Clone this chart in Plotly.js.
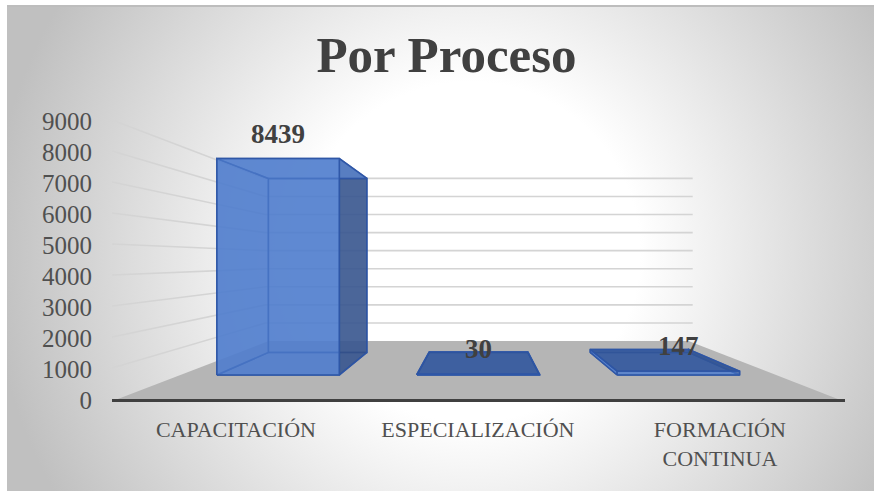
<!DOCTYPE html>
<html><head><meta charset="utf-8">
<script src="https://cdn.plot.ly/plotly-3.0.1.min.js"></script>
<style>
html,body{margin:0;padding:0;width:874px;height:491px;background:#fff;overflow:hidden}
#frame{position:absolute;left:7px;top:5px;width:867px;height:486px;box-sizing:border-box;border-top:2px solid #bdbdbd;
background:radial-gradient(circle at 463px 245px,#fff 170px,#c0c0c0 480px)}
#chart{position:absolute;left:0;top:0;width:874px;height:491px}
</style></head><body>
<div id="frame"></div><div id="chart"></div>
<script>
const categories = ['CAPACITACIÓN', 'ESPECIALIZACIÓN', 'FORMACIÓN<br>CONTINUA'];
const values = [8439, 30, 147];
const valueTicks = [0, 1000, 2000, 3000, 4000, 5000, 6000, 7000, 8000, 9000];
const chartTitle = 'Por Proceso';

// perspective of the 3D scene, in axis units
const vanishI = 1.008, vanishV = 4484;
const backDepth = 0.583, barFront = 0.827, barBack = 0.665, barHalf = 0.306;
const wallL = -0.512, wallR = 2.517, floorL = -0.488, floorR = 2.487;
const P = (i, v, s) => [vanishI + (i - vanishI) * s, vanishV + (v - vanishV) * s];

const face = (pts, fill, line) => ({
  type: 'scatter', mode: 'lines', fill: 'toself', fillcolor: fill,
  x: pts.map(p => p[0]).concat(pts[0][0]), y: pts.map(p => p[1]).concat(pts[0][1]),
  line: {color: line, width: 1.5}, hoverinfo: 'skip', cliponaxis: false
});

const traces = [];
traces.push(face([P(floorL,0,1), P(floorR,0,1), P(floorR,0,backDepth), P(floorL,0,backDepth)], '#b5b5b5', 'rgba(0,0,0,0)'));

const gx = [], gy = [];
valueTicks.filter(t => t > 0).forEach(t => {
  [P(wallL,t,1), P(wallL,t,backDepth), P(wallR,t,backDepth)].forEach(p => { gx.push(p[0]); gy.push(p[1]); });
  gx.push(null); gy.push(null);
});
traces.push({type:'scatter', mode:'lines', x:gx, y:gy, line:{color:'#d4d4d4', width:1.6}, hoverinfo:'skip', cliponaxis:false});

const edge = 'rgba(45,85,165,0.9)', lit = 'rgba(80,125,205,0.7)', dark = 'rgba(52,78,128,0.72)';
values.forEach((v, k) => {
  const a = k - barHalf, b = k + barHalf;
  const topFill = v > vanishV ? lit : 'rgba(50,85,150,0.8)';
  traces.push(face([P(a,0,barBack),P(b,0,barBack),P(b,v,barBack),P(a,v,barBack)], lit, edge));
  traces.push(face([P(a,0,barFront),P(b,0,barFront),P(b,0,barBack),P(a,0,barBack)], lit, edge));
  traces.push(face([P(a,0,barFront),P(a,v,barFront),P(a,v,barBack),P(a,0,barBack)], lit, edge));
  traces.push(face([P(b,0,barFront),P(b,v,barFront),P(b,v,barBack),P(b,0,barBack)], dark, edge));
  traces.push(face([P(a,v,barFront),P(b,v,barFront),P(b,v,barBack),P(a,v,barBack)], topFill, edge));
  traces.push(face([P(a,0,barFront),P(b,0,barFront),P(b,v,barFront),P(a,v,barFront)], v > vanishV ? lit : 'rgba(80,125,205,0.5)', edge));
});

const annotations = values.map((v, k) => {
  const p = P(k, v, barFront);
  return {x:p[0], y:p[1], xref:'x', yref:'y', text:'<b>'+v+'</b>', showarrow:false, xanchor:'center', yanchor:'middle', yshift:25,
    font:{family:'Liberation Serif', size:27, color:'#404040'}};
});

Plotly.newPlot('chart', traces, {
  width:874, height:491, showlegend:false, paper_bgcolor:'rgba(0,0,0,0)', plot_bgcolor:'rgba(0,0,0,0)',
  margin:{l:112, r:29, t:120, b:92},
  title:{text:'<b>'+chartTitle+'</b>', x:446.5/874, xanchor:'center', xref:'container', y:1-54/491, yref:'container', yanchor:'middle',
    font:{family:'Liberation Serif', size:51, color:'#404040'}},
  xaxis:{range:[wallL, wallR], tickvals:[0,1,2], ticktext:categories, showgrid:false, zeroline:false,
    showline:true, linecolor:'#404040', linewidth:3, ticks:'', ticklabelstandoff:9,
    tickangle:0, tickfont:{family:'Liberation Serif', size:22, color:'#505050'}},
  yaxis:{range:[0,9000], tickvals:valueTicks, ticktext:valueTicks.map(String), showgrid:false, zeroline:false, showline:false,
    ticks:'', ticklabelstandoff:19, ticklabelshift:1, tickfont:{family:'Liberation Serif', size:25, color:'#505050'}},
  annotations
}, {displayModeBar:false, staticPlot:true});
</script></body></html>
